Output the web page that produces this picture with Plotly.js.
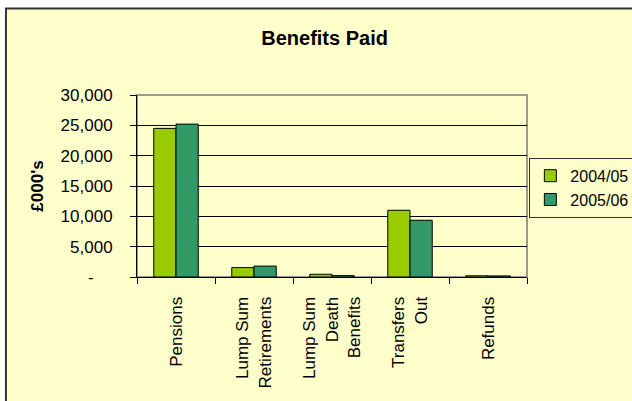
<!DOCTYPE html>
<html>
<head>
<meta charset="utf-8">
<script src="https://cdn.plot.ly/plotly-3.0.1.min.js"></script>
<style>
  html, body { margin: 0; padding: 0; background: #ffffff; }
  #chart { width: 632px; height: 401px; }
</style>
</head>
<body>
<div id="chart"></div>
<script>
// ---- data ----
const categories = ["Pensions", "Lump Sum Retirements", "Lump Sum Death Benefits", "Transfers Out", "Refunds"];
const categoryLabels = ["Pensions", "Lump Sum<br>Retirements", "Lump Sum<br>Death<br>Benefits", "Transfers<br>Out", "Refunds"];
const seriesNames = ["2004/05", "2005/06"];
const values0405 = [24500, 1550, 450, 11000, 200];
const values0506 = [25200, 1800, 230, 9350, 180];
const yTickVals = [0, 5000, 10000, 15000, 20000, 25000, 30000];
const yTickText = ["-", "5,000", "10,000", "15,000", "20,000", "25,000", "30,000"];

const FONT = "Liberation Sans, Arial, sans-serif";
const NB = "\u00a0";
// zero label sits left of the other labels (accounting format)
const yTickTextShown = yTickText.map(t => t === "-" ? "-" + NB.repeat(4) : t);

const traces = [
  { type: "bar", name: seriesNames[0], x: categories, y: values0405, legendgroup: "a",
    marker: { color: "#99CC00", line: { color: "#000000", width: 1 } }, hoverinfo: "skip" },
  { type: "bar", name: seriesNames[1], x: categories, y: values0506, legendgroup: "b",
    marker: { color: "#339966", line: { color: "#000000", width: 1 } }, hoverinfo: "skip" }
];

const layout = {
  width: 632, height: 401,
  margin: { l: 137, r: 105, t: 95, b: 124, pad: 0, autoexpand: false },
  paper_bgcolor: "#ffffff",
  plot_bgcolor: "rgba(0,0,0,0)",
  font: { family: FONT, size: 17, color: "#000000" },
  title: { text: "<b>Benefits Paid</b>", font: { family: FONT, size: 20, color: "#000000" },
           x: 0.481, xref: "paper", xanchor: "center", y: 0.905, yanchor: "middle" },
  barmode: "group", bargap: 0.43, bargroupgap: 0,
  showlegend: true,
  legend: { x: 1.006, xanchor: "left", y: 0.655, yanchor: "top",
            bgcolor: "rgba(0,0,0,0)", bordercolor: "#333333", borderwidth: 1,
            font: { family: FONT, size: 16, color: "#000000" },
            tracegroupgap: 9, traceorder: "normal" },
  xaxis: { type: "category", showgrid: false, zeroline: false,
           tickmode: "array", tickvals: categories, ticktext: categoryLabels,
           showline: true, linecolor: "#000000", linewidth: 1,
           ticks: "outside", tickson: "boundaries", ticklen: 6, tickcolor: "#000000",
           tickangle: -90, tickfont: { family: FONT, size: 17, color: "#000000" },
           ticklabelstandoff: 12, fixedrange: true },
  yaxis: { range: [0, 30000], tickmode: "array", tickvals: yTickVals, ticktext: yTickTextShown,
           showgrid: true, gridcolor: "#000000", gridwidth: 1, zeroline: false,
           showline: true, linecolor: "#000000", linewidth: 1,
           ticks: "outside", ticklen: 6, tickcolor: "#000000",
           tickfont: { family: FONT, size: 17, color: "#000000" },
           ticklabelstandoff: 14,
           title: { text: "<b>£000's</b>", font: { family: FONT, size: 17, color: "#000000" }, standoff: 12 },
           fixedrange: true },
  shapes: [
    // outer chart area
    { type: "rect", xref: "paper", yref: "paper", layer: "below",
      x0: -0.336, x1: 2, y0: -2, y1: 1.475,
      fillcolor: "#FFFFCC", line: { color: "#333333", width: 2 } },
    // plot area border
    { type: "rect", xref: "paper", yref: "paper", layer: "below",
      x0: 0, x1: 1, y0: 0, y1: 1,
      fillcolor: "rgba(0,0,0,0)", line: { color: "#999999", width: 2 } }
  ]
};

Plotly.newPlot("chart", traces, layout, { displayModeBar: false, staticPlot: true });
</script>
</body>
</html>
